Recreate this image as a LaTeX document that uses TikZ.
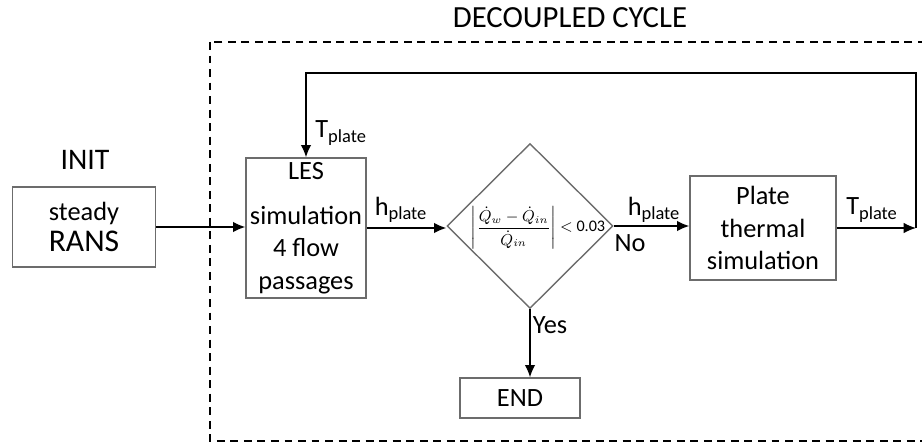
\documentclass[tikz,border=0pt]{standalone}
\usepackage{fontspec}
\setmainfont{Carlito}
\usetikzlibrary{shapes.geometric,arrows.meta}
\tikzset{
	block/.style={draw=gray!85!black, line width=0.8pt, align=center, inner sep=0pt, font=\fontsize{15}{18.5}\selectfont},
	decision/.style={diamond, draw=gray!85!black, line width=0.8pt, inner sep=0pt, minimum width=3.32cm, minimum height=3.3cm},
	flow/.style={line width=0.8pt, -{Latex[length=7pt,width=6pt]}},
	lbl/.style={inner sep=0pt, font=\fontsize{15}{18}\selectfont},
}
\begin{document}
\begin{tikzpicture}[x=0.02cm, y=-0.02cm]
	\clip (0,0) rectangle (922,442);
	\draw[line width=1.2pt, dash pattern=on 4.5pt off 3.2pt] (210,42) rectangle (940,441);
	\node[lbl, font=\fontsize{17.5}{20}\selectfont] (cycle) at (570,18) {DECOUPLED CYCLE};
	\node[lbl, font=\fontsize{17}{20}\selectfont] (initlbl) at (85,160) {INIT};

	\node[block, minimum width=2.86cm, minimum height=1.6cm] (init) at (84,227) {steady\\[-1pt]{\fontsize{18}{20}\selectfont RANS}};
	\node[block, minimum width=2.4cm, minimum height=2.8cm] (les) at (306,228) {LES\\[7pt]simulation\\4 flow\\passages};
	\node[decision] (check) at (530,226) {};
	\node[inner sep=0pt, font=\fontsize{9.2}{11}\selectfont] (crit) at (538,228) {$\displaystyle\left|\frac{\dot{Q}_w-\dot{Q}_{in}}{\dot{Q}_{in}}\right|$ $<$ 0.03};
	\node[block, minimum width=2.92cm, minimum height=2.08cm] (plate) at (763,228) {Plate\\thermal\\simulation};
	\node[block, minimum width=2.4cm, minimum height=0.8cm] (endbox) at (520,398) {END};

	\coordinate (tip) at (916,228);
	\draw[flow] (init.east) -- (init.east -| les.west);
	\draw[flow] (les.east) -- (les.east -| check.west);
	\draw[flow] (check.east) -- (check.east -| plate.west);
	\draw[flow] (plate.east) -- (tip);
	\draw[flow] (tip) -- (916,73) -| (les.north);
	\draw[flow] (check.south) -- (check.south |- endbox.north);

	\node[lbl, anchor=west] (tles) at (315,133) {T\textsubscript{plate}};
	\node[lbl] (hles) at (401,210) {h\textsubscript{plate}};
	\node[lbl] (hplate) at (654,210) {h\textsubscript{plate}};
	\node[lbl] (no) at (630,243) {No};
	\node[lbl] (tplate) at (872,210) {T\textsubscript{plate}};
	\node[lbl] (yes) at (550,325) {Yes};
\end{tikzpicture}
\end{document}
